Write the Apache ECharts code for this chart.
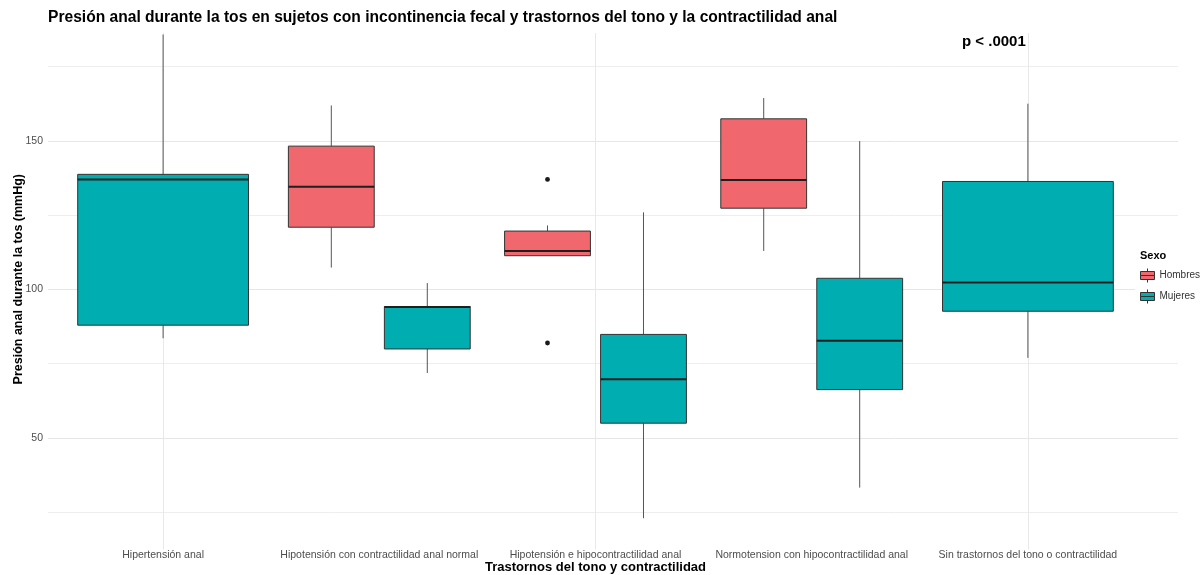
<!DOCTYPE html>
<html>
<head>
<meta charset="utf-8">
<script src="https://cdn.jsdelivr.net/npm/echarts@6/dist/echarts.min.js"></script>
<style>
html, body { margin: 0; background: #fff; }
#chart { width: 1200px; height: 575px; }
</style>
</head>
<body>
<div id="chart"></div>
<script>
var categorias = [
    'Hipertensión anal',
    'Hipotensión con contractilidad anal normal',
    'Hipotensión e hipocontractilidad anal',
    'Normotension con hipocontractilidad anal',
    'Sin trastornos del tono o contractilidad'
];
// [min, Q1, mediana, Q3, max] por categoria, null = sin datos
var hombres = [
    null,
    [107.4, 121.0, 134.6, 148.3, 162.0],
    [111.4, 111.4, 113.0, 119.7, 121.6],
    [113.0, 127.4, 136.9, 157.5, 164.5],
    null
];
var mujeres = [
    [83.6, 88.0, 137.1, 138.8, 185.9],
    [71.9, 80.0, 94.1, 94.3, 102.2],
    [23.0, 55.0, 69.8, 84.9, 126.0],
    [33.3, 66.3, 82.8, 103.8, 150.0],
    [77.0, 92.7, 102.4, 136.4, 162.6]
];
// [categoria, valor]
var atipicosHombres = [[2, 137.1], [2, 82.0]];
var ticksY = [50, 100, 150];

var fuente = '"Liberation Sans", Arial, sans-serif';
var colores = ['#F0676D', '#00AEB1'];
var icono = 'path://M7,0V3M0,3H14V7H0ZM0,7H14V11H0ZM7,11V14';

function filas(lista) {
    var out = [];
    for (var i = 0; i < lista.length; i++) {
        if (lista[i]) out.push([i].concat(lista[i]));
    }
    return out;
}

// lado: -1 hombres, 1 mujeres
function dibujarCaja(lado) {
    return function (params, api) {
        var i = api.value(0);
        var solo = !hombres[i] || !mujeres[i];
        var banda = api.size([1, 0])[0];
        var ancho = (solo ? 0.79 : 0.397) * banda;
        var c = api.coord([i, api.value(3)])[0] + (solo ? 0 : lado * 0.222 * banda);
        var yMin = api.coord([i, api.value(1)])[1];
        var yQ1 = api.coord([i, api.value(2)])[1];
        var yMed = api.coord([i, api.value(3)])[1];
        var yQ3 = api.coord([i, api.value(4)])[1];
        var yMax = api.coord([i, api.value(5)])[1];
        var linea = { stroke: '#555', lineWidth: 1 };
        return {
            type: 'group',
            children: [
                { type: 'line', shape: { x1: c, y1: yQ3, x2: c, y2: yMax }, style: linea },
                { type: 'line', shape: { x1: c, y1: yQ1, x2: c, y2: yMin }, style: linea },
                { type: 'rect', shape: { x: c - ancho / 2, y: yQ3, width: ancho, height: yQ1 - yQ3 },
                  style: { fill: colores[lado < 0 ? 0 : 1], stroke: '#333', lineWidth: 1 } },
                { type: 'line', shape: { x1: c - ancho / 2, y1: yMed, x2: c + ancho / 2, y2: yMed },
                  style: { stroke: '#1f1f1f', lineWidth: 2 } }
            ]
        };
    };
}

function dibujarAtipico(params, api) {
    var banda = api.size([1, 0])[0];
    var p = api.coord([api.value(0), api.value(1)]);
    return {
        type: 'circle',
        shape: { cx: p[0] - 0.222 * banda, cy: p[1], r: 2.4 },
        style: { fill: '#1a1a1a' }
    };
}

var grillaMayor = '#E6E6E6';
var grillaMenor = '#EEEEEE';

var option = {
    animation: false,
    backgroundColor: '#fff',
    color: colores,
    title: [{
        text: 'Presión anal durante la tos en sujetos con incontinencia fecal y trastornos del tono y la contractilidad anal',
        left: 48, top: 10, padding: 0,
        textStyle: { fontSize: 15.6, fontWeight: 'bold', color: '#000', fontFamily: fuente }
    }, {
        text: 'p < .0001',
        left: 962, top: 34, padding: 0,
        textStyle: { fontSize: 15, fontWeight: 'bold', color: '#000', fontFamily: fuente }
    }, {
        text: 'Sexo',
        left: 1140, top: 250, padding: 0,
        textStyle: { fontSize: 11, fontWeight: 'bold', color: '#000', fontFamily: fuente }
    }],
    legend: {
        orient: 'vertical',
        left: 1135, top: 265,
        padding: [3, 40, 3, 5],
        backgroundColor: '#fff',
        itemWidth: 14, itemHeight: 14, itemGap: 6,
        selectedMode: false,
        textStyle: { fontSize: 10, color: '#333', fontFamily: fuente },
        data: [
            { name: 'Hombres', icon: icono, itemStyle: { color: colores[0], borderColor: '#333', borderWidth: 1 } },
            { name: 'Mujeres', icon: icono, itemStyle: { color: colores[1], borderColor: '#333', borderWidth: 1 } }
        ]
    },
    grid: [
        { left: 48, right: 22, top: 9, bottom: 25.6, outerBoundsMode: 'none' },
        { left: 55, right: 64, top: 33, bottom: 25.6, outerBoundsMode: 'none' },
        { left: 163, right: 172, top: 33, bottom: 25.6, outerBoundsMode: 'none' }
    ],
    xAxis: [{
        gridIndex: 0, type: 'value', min: 0, max: 1, show: false
    }, {
        gridIndex: 1,
        type: 'category',
        data: categorias,
        boundaryGap: true,
        axisLine: { show: false },
        axisTick: { show: false },
        splitLine: { show: false },
        axisLabel: { margin: 0, fontSize: 10.5, color: '#4D4D4D', fontFamily: fuente, interval: 0 },
        name: 'Trastornos del tono y contractilidad',
        nameLocation: 'middle',
        nameGap: 12,
        nameMoveOverlap: false,
        nameTextStyle: { fontSize: 13, fontWeight: 'bold', color: '#000', fontFamily: fuente }
    }, {
        gridIndex: 2,
        type: 'category',
        data: categorias,
        boundaryGap: false,
        axisLine: { show: false },
        axisTick: { show: false },
        axisLabel: { show: false },
        splitLine: { show: true, lineStyle: { color: '#E8E8E8', width: 1 } }
    }],
    yAxis: [{
        gridIndex: 0,
        type: 'value',
        min: 12.5, max: 194.4, interval: 12.5,
        axisLine: { show: false },
        axisTick: { show: false },
        axisLabel: {
            margin: 5, fontSize: 10.5, color: '#4D4D4D', fontFamily: fuente,
            formatter: function (v) { return ticksY.indexOf(v) >= 0 ? String(v) : ''; }
        },
        splitLine: {
            show: true,
            showMaxLine: false,
            lineStyle: { color: ['rgba(0,0,0,0)', grillaMenor, 'rgba(0,0,0,0)', grillaMayor], width: 1 }
        },
        name: 'Presión anal durante la tos (mmHg)',
        nameLocation: 'middle',
        nameGap: 23,
        nameMoveOverlap: false,
        nameTextStyle: { fontSize: 12.5, fontWeight: 'bold', color: '#000', fontFamily: fuente }
    }, {
        gridIndex: 1, type: 'value', min: 12.5, max: 186.4, show: false
    }, {
        gridIndex: 2, type: 'value', min: 12.5, max: 186.4, show: false
    }],
    series: [{
        name: 'Hombres',
        type: 'custom',
        xAxisIndex: 1, yAxisIndex: 1,
        renderItem: dibujarCaja(-1),
        encode: { x: 0, y: [1, 2, 3, 4, 5] },
        itemStyle: { color: colores[0] },
        data: filas(hombres),
        z: 3
    }, {
        name: 'Mujeres',
        type: 'custom',
        xAxisIndex: 1, yAxisIndex: 1,
        renderItem: dibujarCaja(1),
        encode: { x: 0, y: [1, 2, 3, 4, 5] },
        itemStyle: { color: colores[1] },
        data: filas(mujeres),
        z: 3
    }, {
        name: 'Hombres',
        type: 'custom',
        xAxisIndex: 1, yAxisIndex: 1,
        renderItem: dibujarAtipico,
        encode: { x: 0, y: 1 },
        itemStyle: { color: colores[0] },
        data: atipicosHombres,
        z: 4
    }]
};

var myChart = echarts.init(document.getElementById('chart'));
myChart.setOption(option);
</script>
</body>
</html>
